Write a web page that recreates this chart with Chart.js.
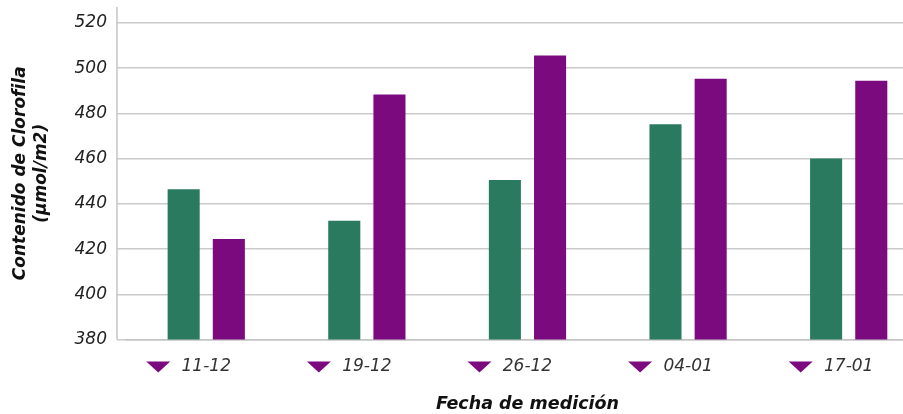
<!DOCTYPE html>
<html lang="es">
<head>
<meta charset="utf-8">
<title>Contenido de Clorofila</title>
<script src="https://cdn.jsdelivr.net/npm/chart.js@4.4.1/dist/chart.umd.min.js"></script>
<style>
    html, body { margin: 0; padding: 0; background: #fff; overflow: hidden; }
    #wrap { width: 935px; height: 414px; position: relative; }
</style>
</head>
<body>
<div id="wrap"><canvas id="clorofilaChart"></canvas></div>
<script>
// Datos
const fechas = ['11-12', '19-12', '26-12', '04-01', '17-01'];
const serieVerde = [446.5, 432.5, 450.5, 475.2, 460];
const serieMorada = [424.5, 488.3, 505.6, 495.3, 494.4];
const marcasY = [380, 400, 420, 440, 460, 480, 500, 520];

const VERDE = '#2a7a5f';
const MORADO = '#7b0a7e';
const GRIS_EJE = '#c4c4c4';
const EXT_GRID = 9;

// Triángulos morados delante de cada fecha + línea del eje Y
const decoracion = {
    id: 'decoracion',
    afterDraw(chart) {
        const ctx = chart.ctx;
        const area = chart.chartArea;
        const x = chart.scales.x;
        const top = area.bottom + 22;
        ctx.save();
        // eje vertical
        ctx.strokeStyle = GRIS_EJE;
        ctx.lineWidth = 1.5;
        ctx.beginPath();
        ctx.moveTo(area.left - EXT_GRID, area.top);
        ctx.lineTo(area.left - EXT_GRID, area.bottom);
        ctx.stroke();
        // triángulos
        ctx.fillStyle = MORADO;
        fechas.forEach((f, i) => {
            const cx = x.getPixelForValue(i) - 48;
            ctx.beginPath();
            ctx.moveTo(cx - 12, top);
            ctx.lineTo(cx + 12, top);
            ctx.lineTo(cx, top + 11);
            ctx.closePath();
            ctx.fill();
        });
        ctx.restore();
    }
};

document.addEventListener('DOMContentLoaded', function() {
    const ctx = document.getElementById('clorofilaChart').getContext('2d');

    new Chart(ctx, {
        type: 'bar',
        data: {
            labels: fechas,
            datasets: [
                {
                    label: 'Serie 1',
                    data: serieVerde,
                    backgroundColor: VERDE
                },
                {
                    label: 'Serie 2',
                    data: serieMorada,
                    backgroundColor: MORADO
                }
            ]
        },
        options: {
            responsive: true,
            maintainAspectRatio: false,
            animation: false,
            categoryPercentage: 0.5625,
            barPercentage: 0.71,
            layout: { padding: { top: 7, left: 10, right: 6, bottom: -1 } },
            plugins: {
                legend: { display: false },
                tooltip: { enabled: false }
            },
            scales: {
                x: {
                    grid: { display: false, drawTicks: false },
                    border: { display: true, color: GRIS_EJE, width: 1.5 },
                    ticks: {
                        padding: 17,
                        color: '#333',
                        font: { family: 'DejaVu Sans', size: 17, style: 'oblique' }
                    },
                    title: {
                        display: true,
                        text: 'Fecha de medición',
                        color: '#111',
                        padding: { top: 0, bottom: 0 },
                        font: { family: 'DejaVu Sans', size: 17.5, weight: 'bold', style: 'oblique' }
                    }
                },
                y: {
                    min: 380,
                    max: 527,
                    afterBuildTicks: function(axis) {
                        axis.ticks = marcasY.map(v => ({ value: v }));
                    },
                    afterFit: function(axis) {
                        axis.paddingTop = 0;
                        axis.paddingBottom = 0;
                    },
                    grid: { color: '#cacaca', lineWidth: 1.5, drawTicks: true, tickLength: EXT_GRID },
                    border: { display: false },
                    ticks: {
                        padding: 10,
                        color: '#222',
                        font: { family: 'DejaVu Sans', size: 17, style: 'oblique' }
                    },
                    title: {
                        display: true,
                        text: ['Contenido de Clorofila', '(µmol/m2)'],
                        color: '#111',
                        padding: { top: 0, bottom: 12 },
                        font: { family: 'DejaVu Sans', size: 17, weight: 'bold', style: 'oblique', lineHeight: 1.25 }
                    }
                }
            }
        },
        plugins: [decoracion]
    });
});
</script>
</body>
</html>
